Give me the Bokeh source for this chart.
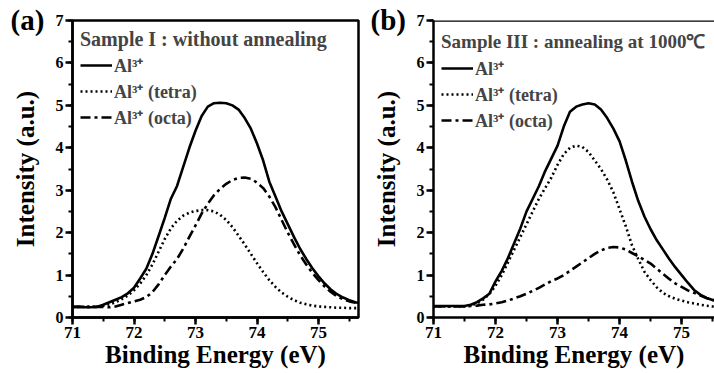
from bokeh.plotting import figure
from bokeh.models import Legend, LegendItem, Span, Range1d, SingleIntervalTicker
from bokeh.layouts import row
from bokeh.embed import file_html
from bokeh.resources import INLINE

# ---------------- data ----------------
energy = [71.0, 71.1, 71.2, 71.3, 71.4, 71.5, 71.6, 71.7, 71.8, 71.9,
          72.0, 72.1, 72.2, 72.3, 72.4, 72.5, 72.6, 72.7, 72.8, 72.9,
          73.0, 73.1, 73.2, 73.3, 73.4, 73.5, 73.6, 73.7, 73.8, 73.9,
          74.0, 74.1, 74.2, 74.3, 74.4, 74.5, 74.6, 74.7, 74.8, 74.9,
          75.0, 75.1, 75.2, 75.3, 75.4, 75.5, 75.6, 75.7]

# Panel (a): Sample I, without annealing
a_total = [0.25, 0.25, 0.24, 0.24, 0.25, 0.30, 0.36, 0.42, 0.48, 0.57,
           0.70, 0.92, 1.15, 1.50, 1.92, 2.35, 2.80, 3.10, 3.55, 4.00,
           4.40, 4.75, 4.97, 5.05, 5.06, 5.05, 5.00, 4.90, 4.70, 4.45,
           4.10, 3.70, 3.20, 2.85, 2.50, 2.20, 1.90, 1.62, 1.38, 1.16,
           0.97, 0.80, 0.66, 0.55, 0.47, 0.41, 0.36, 0.33]
a_tetra = [0.25, 0.25, 0.25, 0.25, 0.26, 0.28, 0.31, 0.36, 0.43, 0.52,
           0.64, 0.80, 1.00, 1.25, 1.55, 1.85, 2.10, 2.28, 2.40, 2.47,
           2.51, 2.53, 2.53, 2.50, 2.42, 2.30, 2.13, 1.93, 1.72, 1.50,
           1.28, 1.07, 0.88, 0.72, 0.59, 0.49, 0.41, 0.35, 0.31, 0.28,
           0.26, 0.25, 0.24, 0.23, 0.23, 0.22, 0.22, 0.22]
a_octa = [0.25, 0.25, 0.25, 0.25, 0.25, 0.25, 0.24, 0.26, 0.30, 0.34,
          0.38, 0.42, 0.48, 0.60, 0.78, 1.00, 1.20, 1.38, 1.62, 1.90,
          2.17, 2.45, 2.68, 2.88, 3.03, 3.15, 3.24, 3.29, 3.30, 3.27,
          3.18, 3.05, 2.85, 2.60, 2.30, 2.00, 1.73, 1.47, 1.25, 1.05,
          0.88, 0.73, 0.60, 0.50, 0.43, 0.38, 0.35, 0.32]

# Panel (b): Sample III, annealing at 1000 C
b_total = [0.27, 0.27, 0.27, 0.27, 0.27, 0.27, 0.30, 0.36, 0.45, 0.56,
           0.85, 1.10, 1.40, 1.75, 2.10, 2.50, 2.80, 3.10, 3.45, 3.75,
           4.05, 4.50, 4.85, 4.97, 5.02, 5.05, 5.02, 4.90, 4.70, 4.45,
           4.15, 3.70, 3.20, 2.75, 2.38, 2.08, 1.82, 1.60, 1.38, 1.18,
           1.00, 0.82, 0.65, 0.54, 0.46, 0.41, 0.38, 0.36]
b_tetra = [0.26, 0.26, 0.26, 0.26, 0.26, 0.26, 0.28, 0.33, 0.42, 0.55,
           0.75, 1.00, 1.30, 1.60, 1.90, 2.20, 2.50, 2.80, 3.05, 3.30,
           3.60, 3.85, 4.00, 4.05, 4.02, 3.90, 3.70, 3.50, 3.25, 2.95,
           2.55, 2.15, 1.70, 1.38, 1.08, 0.88, 0.71, 0.58, 0.50, 0.44,
           0.40, 0.36, 0.33, 0.30, 0.28, 0.26, 0.26, 0.26]
b_octa = [0.26, 0.26, 0.26, 0.26, 0.26, 0.26, 0.27, 0.28, 0.30, 0.31,
          0.33, 0.36, 0.40, 0.45, 0.50, 0.56, 0.63, 0.70, 0.78, 0.86,
          0.92, 1.00, 1.10, 1.20, 1.30, 1.40, 1.50, 1.58, 1.64, 1.66,
          1.65, 1.60, 1.52, 1.44, 1.36, 1.27, 1.15, 1.03, 0.91, 0.80,
          0.72, 0.64, 0.58, 0.52, 0.46, 0.42, 0.39, 0.37]

panel_tags = ["(a)", "(b)"]
sample_titles = ["Sample I : without annealing", "Sample III : annealing at 1000\u2103"]
series_labels = ["Al\u00b3\u207a", "Al\u00b3\u207a (tetra)", "Al\u00b3\u207a (octa)"]
x_title = "Binding Energy (eV)"
y_title = "Intensity (a.u.)"

SERIF = "'Liberation Serif', serif"


def make_panel(tag, title, total, tetra, octa, width, border_left, border_right,
               x_end, full_outline, title_size, tag_offset):
    p = figure(width=width, height=373, x_range=Range1d(71, x_end), y_range=Range1d(0, 7),
               output_backend="svg", toolbar_location=None,
               min_border_left=border_left, min_border_right=border_right,
               min_border_top=20, min_border_bottom=56)
    p.xgrid.visible = False
    p.ygrid.visible = False
    p.background_fill_color = "white"
    p.border_fill_color = "white"
    if full_outline:
        p.outline_line_color = "black"
        p.outline_line_width = 2.5
    else:
        p.outline_line_color = None
        p.add_layout(Span(location=7, dimension="width", line_color="black", line_width=2.5))

    # panel tag "(a)" / "(b)" drawn as the plot title, shifted to the left of the frame
    p.title.text = tag
    p.title.align = "left"
    p.title.offset = tag_offset
    p.title.standoff = -30
    p.title.text_font = SERIF
    p.title.text_font_style = "bold"
    p.title.text_font_size = "29px"
    p.title.text_color = "black"

    p.xaxis.ticker = SingleIntervalTicker(interval=1, num_minor_ticks=2)
    p.yaxis.ticker = SingleIntervalTicker(interval=1, num_minor_ticks=2)
    for ax in (p.xaxis, p.yaxis):
        ax.axis_line_width = 2.5
        ax.axis_line_color = "black"
        ax.major_tick_line_width = 2.5
        ax.minor_tick_line_width = 2
        ax.major_tick_out = 7
        ax.major_tick_in = 0
        ax.minor_tick_out = 4
        ax.minor_tick_in = 0
        ax.major_label_text_font = SERIF
        ax.major_label_text_font_style = "bold"
        ax.major_label_text_color = "black"
        ax.axis_label_text_font = SERIF
        ax.axis_label_text_font_style = "bold"
        ax.axis_label_text_color = "black"
        ax.axis_label_text_font_size = "25px"
        ax.major_label_standoff = 2
    p.xaxis.major_label_text_font_size = "17px"
    p.yaxis.major_label_text_font_size = "16px"
    p.xaxis.axis_label = x_title
    p.yaxis.axis_label = y_title
    p.xaxis.axis_label_standoff = 0
    p.yaxis.axis_label_standoff = 14

    r1 = p.line(energy, total, line_color="black", line_width=2.6)
    r2 = p.line(energy, tetra, line_color="black", line_width=2.6, line_dash="2 3")
    r3 = p.line(energy, octa, line_color="black", line_width=2.6, line_dash="10 4 3 4")

    legend = Legend(items=[LegendItem(label=series_labels[0], renderers=[r1]),
                           LegendItem(label=series_labels[1], renderers=[r2]),
                           LegendItem(label=series_labels[2], renderers=[r3])],
                    location="top_left", title=title,
                    title_text_font=SERIF, title_text_font_style="bold",
                    title_text_font_size=title_size, title_standoff=2,
                    label_text_font=SERIF, label_text_font_style="bold",
                    label_text_font_size="18px",
                    glyph_width=32, glyph_height=20, label_height=20,
                    label_standoff=2, spacing=2, padding=8, margin=0,
                    border_line_alpha=0, background_fill_alpha=0)
    p.add_layout(legend)
    return p


pa = make_panel(panel_tags[0], sample_titles[0], a_total, a_tetra, a_octa,
                width=360, border_left=72, border_right=2, x_end=75.65,
                full_outline=True, title_size="20px", tag_offset=-62)
pb = make_panel(panel_tags[1], sample_titles[1], b_total, b_tetra, b_octa,
                width=354, border_left=73, border_right=0, x_end=75.53,
                full_outline=False, title_size="19px", tag_offset=-63)

layout = row(pa, pb)
open("out.html", "w").write(file_html(layout, INLINE))
